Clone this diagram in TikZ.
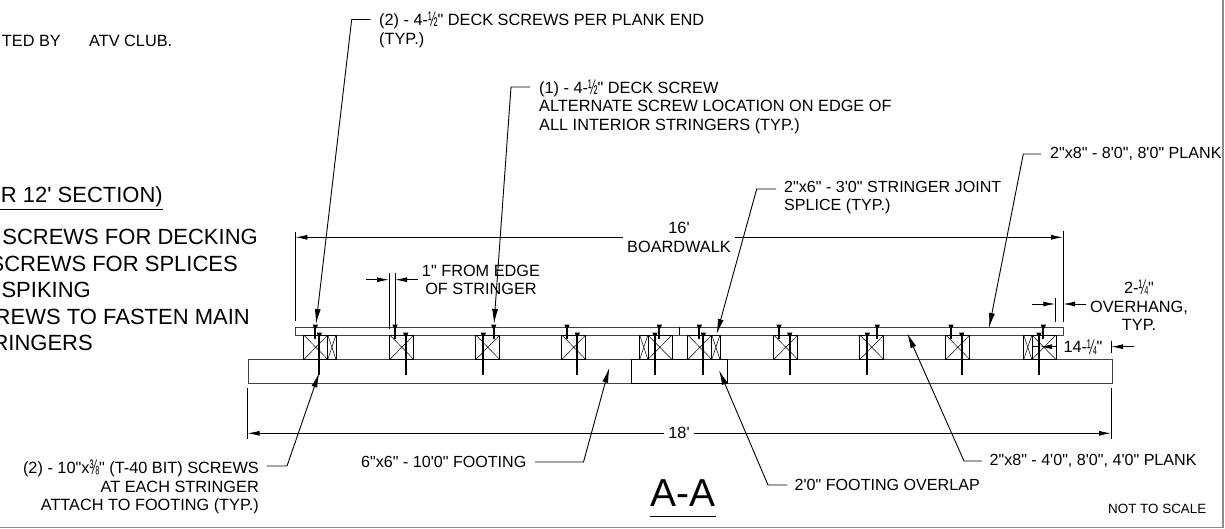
\documentclass[tikz,border=0pt]{standalone}
\usepackage{fontspec}
\setmainfont[Ligatures=TeXOff]{Liberation Sans}
\usetikzlibrary{arrows.meta}
\usetikzlibrary{positioning}
\tikzstyle{lbl} = [inner sep=0pt,font=\fontsize{16.3}{18.6}\selectfont]
\tikzstyle{lblq} = [inner sep=0pt,font=\fontsize{16.1}{18.6}\selectfont]
\tikzstyle{bigl} = [inner sep=0pt,font=\fontsize{22}{26}\selectfont]
\tikzstyle{beam} = [rectangle,draw=black!75,line width=1.1pt,inner sep=0pt,anchor=north west]
\tikzstyle{stringer} = [rectangle,draw=black,line width=0.8pt,inner sep=0pt,anchor=north west,minimum height=24.5pt,path picture={\draw[line width=0.5pt] (path picture bounding box.north west) -- (path picture bounding box.south east) (path picture bounding box.north east) -- (path picture bounding box.south west);}]
\tikzstyle{main} = [stringer,minimum width=24pt]
\tikzstyle{splice} = [stringer,minimum width=8.2pt]
\tikzstyle{leader} = [line width=0.9pt,-{Latex[length=15pt,width=6pt]}]
\tikzstyle{dimarrow} = [line width=0.9pt,-{Latex[length=12pt,width=5pt]}]
\tikzstyle{ext} = [line width=0.9pt]
\tikzstyle{shank} = [line width=2.2pt]
\newcommand{\deckscrew}[1]{\draw[shank] (#1,326) -- (#1,338.5); \fill (#1-2.7,324.5) -- (#1+2.7,324.5) -- (#1+1.3,328) -- (#1-1.3,328) -- cycle;}
\newcommand{\longscrew}[1]{\draw[shank] (#1,334) -- (#1,374.5); \fill (#1-2.7,332.5) -- (#1+2.7,332.5) -- (#1+1.3,336) -- (#1-1.3,336) -- cycle;}
\newcommand{\stk}[1]{\raisebox{-1.2pt}{\scalebox{0.7}[1.3]{#1}}}
\begin{document}
\begin{tikzpicture}[x=1pt,y=-1pt]
        \useasboundingbox (0,0) rectangle (1225,529);
        % sheet border
        \draw [black!45,line width=1.4pt] (1222.8,0) -- (1222.8,527.6) -- (0,527.6);
        % text cut off by the sheet
        \node (note1) [lbl,anchor=east] at (61,41) {TED BY};
        \node (note2) [lbl,anchor=west] at (89,41) {ATV CLUB.};
        \node (sec) [bigl,anchor=east] at (163,197) {R 12' SECTION)};
        \draw [line width=0.9pt] (0,209.3) -- (163,209.3);
        \node (sec1) [bigl,anchor=east] at (258,237) {SCREWS FOR DECKING};
        \node (sec2) [bigl,anchor=east] at (238,263.5) {SCREWS FOR SPLICES};
        \node (sec3) [bigl,anchor=east] at (91,290) {SPIKING};
        \node (sec4) [bigl,anchor=east] at (250,316.5) {REWS TO FASTEN MAIN};
        \node (sec5) [bigl,anchor=east] at (93,343) {RINGERS};

        % footing
        \node (foot) [beam,minimum width=864pt,minimum height=24pt] at (247.5,359) {};
        \node (lap) [beam,draw=black,minimum width=96pt,minimum height=24pt] at (631.3,359) {};
        % plank
        \node (plank) [beam,minimum width=768pt,minimum height=8pt] at (295,326.7) {};
        \draw [line width=0.9pt] (679,326.7) -- (679,334.7);
        % stringers
        \node (s1) [main] at (303.4,334.6) {};
        \node (s1b) [splice] at (327.4,334.6) {};
        \node (s2) [main] at (389.4,334.6) {};
        \node (s3) [main] at (475.4,334.6) {};
        \node (s4) [main] at (561.4,334.6) {};
        \node (s5b) [splice] at (639.3,334.6) {};
        \node (s5) [main] at (647.5,334.6) {};
        \node (s6) [main] at (687.4,334.6) {};
        \node (s6b) [splice] at (711.4,334.6) {};
        \node (s7) [main] at (773.4,334.6) {};
        \node (s8) [main] at (859.4,334.6) {};
        \node (s9) [main] at (945.4,334.6) {};
        \node (s10b) [splice] at (1023.3,334.6) {};
        \node (s10) [main] at (1031.5,334.6) {};
        % screws
        \deckscrew{315.3} \longscrew{319.3}
        \deckscrew{395} \longscrew{405.7}
        \deckscrew{493.7} \longscrew{483.3}
        \deckscrew{567} \longscrew{577.3}
        \deckscrew{659.3} \longscrew{655}
        \deckscrew{699.3} \longscrew{703.3}
        \deckscrew{779} \longscrew{789.7}
        \deckscrew{877.3} \longscrew{867.3}
        \deckscrew{951} \longscrew{961.7}
        \deckscrew{1043.3} \longscrew{1039}

        % dim 16'
        \node (l16) [lbl,align=center,inner sep=4pt] at (679,237.3) {16'\\BOARDWALK};
        \coordinate (d16a) at (295.3,237.3);
        \coordinate (d16b) at (1063,237.3);
        \draw [dimarrow] (l16) -- (d16a);
        \draw [dimarrow] (l16) -- (d16b);
        \draw [ext] (295.3,232) -- (295.3,321);
        \draw [ext] (1063,231) -- (1063,321.7);
        % dim 18'
        \node (l18) [lbl,inner sep=4pt] at (679,433.3) {18'};
        \coordinate (d18a) at (247.5,433.3);
        \coordinate (d18b) at (1111,433.3);
        \draw [dimarrow] (l18) -- (d18a);
        \draw [dimarrow] (l18) -- (d18b);
        \draw [ext] (247.5,388) -- (247.5,439);
        \draw [ext] (1111,388) -- (1111,439);
        % dim 1"
        \node (l1in) [lbl,align=center] at (481,279.7) {1" FROM EDGE\\OF STRINGER};
        \coordinate (d1a) at (366,279.7);
        \coordinate (d1b) at (389,279.7);
        \coordinate (d1c) at (418,279.7);
        \coordinate (d1d) at (395,279.7);
        \draw [dimarrow] (d1a) -- (d1b);
        \draw [dimarrow] (d1c) -- (d1d);
        \draw [ext] (389,273) -- (389,329);
        \draw [ext] (395,273) -- (395,326);
        % dim overhang
        \node (lover) [lbl,align=center] at (1139,305.5) {2-\stk{¼}"\\OVERHANG,\\TYP.};
        \coordinate (d2a) at (1031.7,304);
        \coordinate (d2b) at (1055.3,304);
        \coordinate (d2c) at (1086,304);
        \coordinate (d2d) at (1063,304);
        \draw [dimarrow] (d2a) -- (d2b);
        \draw [dimarrow] (d2c) -- (d2d);
        \draw [ext] (1055.3,298) -- (1055.3,321.7);
        % dim 14 1/4
        \node (l14) [lbl] at (1083,347) {14-\stk{¼}"};
        \coordinate (d3a) at (1057,346.7);
        \coordinate (d3b) at (1040,346.7);
        \coordinate (d3c) at (1134,346.7);
        \coordinate (d3d) at (1111,346.7);
        \draw [dimarrow] (d3a) -- (d3b);
        \draw [ext] (d3b) -- (1031.5,346.7);
        \draw [dimarrow] (d3c) -- (d3d);
        \draw [ext] (1111,340.7) -- (1111,352.7);

        % leader 1: plank end screws
        \node (t1) [lbl,anchor=west,align=left] at (379,30) {(2) - 4-\stk{½}" DECK SCREWS PER PLANK END\\(TYP.)};
        \coordinate (h1) at (370.7,19.5);
        \coordinate (e1) at (351.7,19.5);
        \coordinate (p1) at (316,324);
        \draw [leader] (h1) -- (e1) -- (p1);
        % leader 2: alternate screw
        \node (t2) [lbl,anchor=west,align=left] at (539,106.7) {(1) - 4-\stk{½}" DECK SCREW\\ALTERNATE SCREW LOCATION ON EDGE OF\\ALL INTERIOR STRINGERS (TYP.)};
        \coordinate (h2) at (530,87);
        \coordinate (e2) at (511,87);
        \coordinate (p2) at (494,324);
        \draw [leader] (h2) -- (e2) -- (p2);
        % leader 3: splice
        \node (t3) [lblq,anchor=west,align=left] at (784,197.5) {2"x6" - 3'0" STRINGER JOINT\\SPLICE (TYP.)};
        \coordinate (h3) at (776,189);
        \coordinate (e3) at (756.7,189);
        \coordinate (p3) at (716.7,334);
        \draw [leader] (h3) -- (e3) -- (p3);
        % leader 4: long plank
        \node (t4) [lblq,anchor=west] at (1050,154) {2"x8" - 8'0", 8'0" PLANK};
        \coordinate (h4) at (1041,154);
        \coordinate (e4) at (1023.3,154);
        \coordinate (p4) at (989,328);
        \draw [leader] (h4) -- (e4) -- (p4);
        % leader 5: footing screws
        \node (t5) [lbl,anchor=east,align=right] at (259,487) {(2) - 10"x\stk{⅜}" (T-40 BIT) SCREWS\\AT EACH STRINGER\\ATTACH TO FOOTING (TYP.)};
        \coordinate (h5) at (266.7,466);
        \coordinate (e5) at (287,466);
        \coordinate (p5) at (319.3,372.5);
        \draw [leader] (h5) -- (e5) -- (p5);
        % leader 6: footing
        \node (t6) [lblq,anchor=west] at (361,462) {6"x6" - 10'0" FOOTING};
        \coordinate (h6) at (535,462);
        \coordinate (e6) at (583.5,462);
        \coordinate (p6) at (609.3,367.7);
        \draw [leader] (h6) -- (e6) -- (p6);
        % leader 7: overlap
        \node (t7) [lblq,anchor=west] at (794.5,485) {2'0" FOOTING OVERLAP};
        \coordinate (h7) at (787,485);
        \coordinate (e7) at (768,485);
        \coordinate (p7) at (719,370);
        \draw [leader] (h7) -- (e7) -- (p7);
        % leader 8: short plank
        \node (t8) [lblq,anchor=west] at (989.4,461) {2"x8" - 4'0", 8'0", 4'0" PLANK};
        \coordinate (h8) at (982,461);
        \coordinate (e8) at (964,461);
        \coordinate (p8) at (907.3,333.3);
        \draw [leader] (h8) -- (e8) -- (p8);

        % title
        \node (aa) [inner sep=0pt,font=\fontsize{39}{39}\selectfont] at (682.8,493.5) {A-A};
        \draw [line width=0.9pt] (650,516) -- (715.6,516);
        \node (nts) [inner sep=0pt,anchor=west,font=\fontsize{13.4}{15}\selectfont] at (1108,509) {NOT TO SCALE};
\end{tikzpicture}
\end{document}
